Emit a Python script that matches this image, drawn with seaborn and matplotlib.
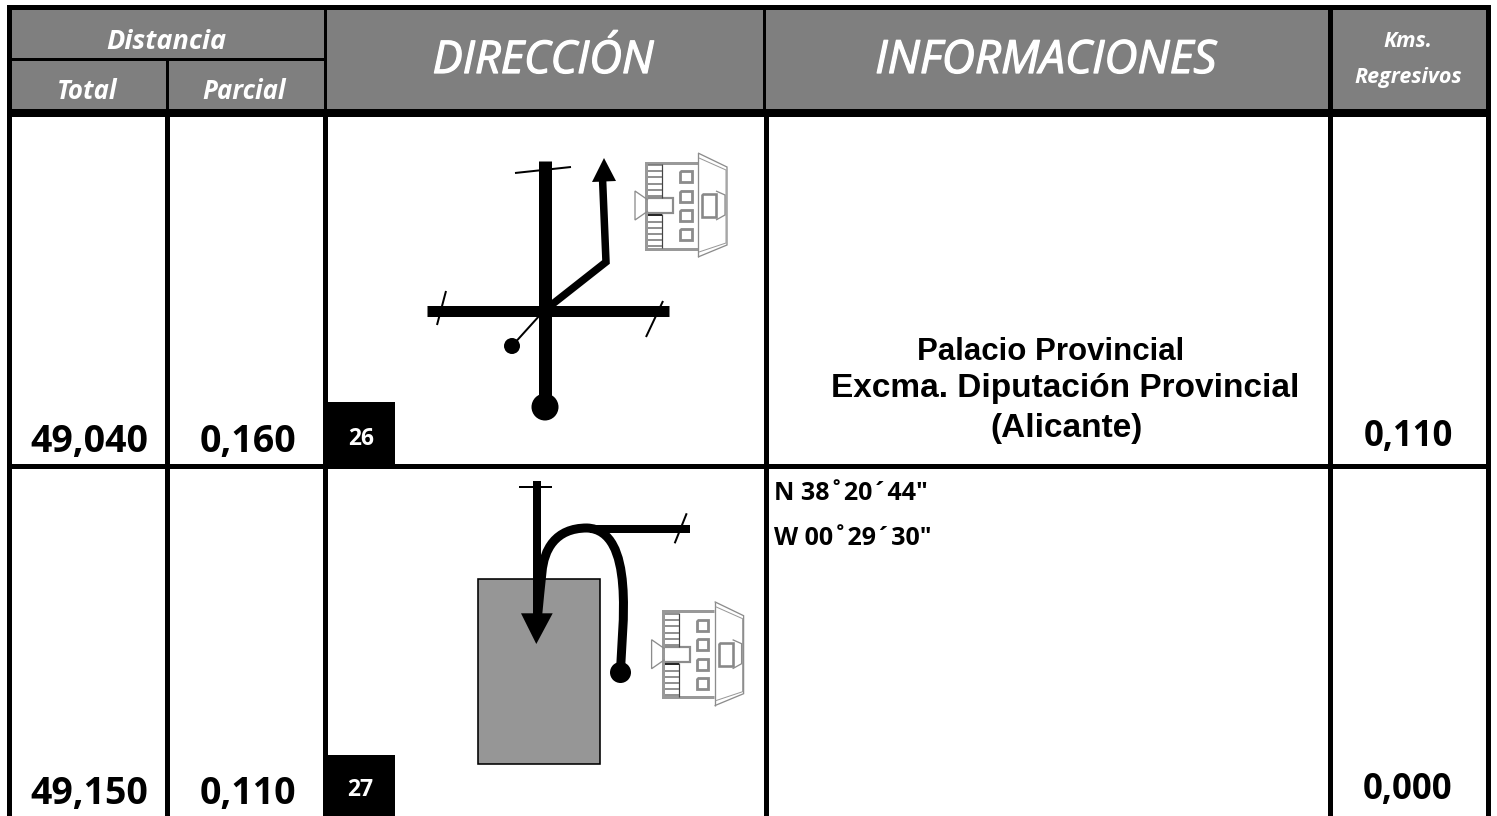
"""Roadbook sheet, two rows: Palacio Provincial (Alicante)."""

import matplotlib
matplotlib.use("Agg")
import matplotlib.pyplot as plt
import matplotlib.patheffects as pe
from matplotlib.patches import Rectangle, Circle, Polygon, PathPatch
from matplotlib.path import Path
import seaborn as sns

# --- table text
header_cols = ["Total", "Parcial"]
total_km = ["49,040", "49,150"]
partial_km = ["0,160", "0,110"]
regressive_km = ["0,110", "0,000"]
step_numbers = ["26", "27"]
place_lines = ["Palacio Provincial", "Excma. Diputación Provincial", "(Alicante)"]
coord_lines = ['N 38˚20´44"', 'W 00˚29´30"']

GREY = "#7f7f7f"
BLOCK = "#969696"
LINE = "#8c8c8c"
CAL = "Open Sans"
ARIAL = "Liberation Sans"


def px(n):
    # pixels to points, figure is at 100 dpi
    return n * 72 / 100


sns.set_theme(style="white")
fig = plt.figure(figsize=(14.97, 8.16), dpi=100)
ax = fig.add_axes([0, 0, 1, 1])


def seg(xs, ys, width, color="black", cap="butt"):
    sns.lineplot(x=xs, y=ys, sort=False, estimator=None, color=color,
                 linewidth=px(width), solid_capstyle=cap,
                 solid_joinstyle="miter", legend=False, ax=ax)


def box(x0, y0, x1, y1, color="black", **kw):
    ax.add_patch(Rectangle((x0, y0), x1 - x0, y1 - y0, facecolor=color,
                           edgecolor="none", **kw))


def building(dx, dy):
    # small palace icon, outline only
    def bl(xs, ys, w=1.3, color=LINE):
        seg([x + dx for x in xs], [y + dy for y in ys], w, color)

    # main body
    bl([697.5, 646, 646, 697.5], [162.5, 162.5, 248.5, 248.5], 3, "#999999")
    # rear wing
    bl([698, 698], [153, 257])
    bl([698, 727, 727, 698], [153, 167, 245, 257])
    bl([699, 726, 726, 699], [158, 170, 243, 252], 1.0, "#999999")
    # door
    bl([702, 716, 716, 702, 702], [194, 194, 217, 217, 194], 2.6, "#888888")
    bl([716, 725, 725, 716], [191, 195, 215, 220])
    # entrance
    bl([648, 635, 635, 648], [200, 191, 220, 211])
    bl([648, 673, 673, 648], [198, 198, 213, 213], 2.2, "#8c8c8c")
    # windows
    for wy in [171, 190.5, 210, 229]:
        bl([680, 691.5, 691.5, 680, 680],
           [wy, wy, wy + 11, wy + 11, wy], 2.8, "#8c8c8c")
    # stairs
    bl([662, 662], [164, 198], 1.2, "#444444")
    bl([662, 662], [214, 248], 1.2, "#444444")
    for ry in [165, 171, 177, 184, 190, 196, 222, 228, 234, 240, 246]:
        bl([648, 662], [ry, ry], 1.6, "#777777")
    bl([648, 662], [215, 215], 1.8, "#111111")


# --- header
box(12, 10, 1486, 109, GREY)
# --- frame
box(7, 5, 1491, 10)
box(7, 5, 12, 816)
box(1486, 5, 1491, 816)
box(12, 109, 1486, 117)
box(12, 464, 1486, 469)
box(324, 10, 327, 109)
box(166, 61, 169, 109)
box(12, 58, 324, 61)
box(763, 10, 766, 109)
box(1328, 10, 1333, 816)
for x0, x1 in [(165, 170), (323, 328), (764, 769)]:
    box(x0, 117, x1, 816)

# --- header text
head = dict(color="white", style="italic", ha="center", va="baseline", family=CAL)
heavier = [pe.withStroke(linewidth=0.9, foreground="white")]
ax.text(166, 49, "Distancia", fontsize=19.5, weight="bold", **head)
ax.text(87, 99, header_cols[0], fontsize=18.5, weight="bold", **head)
ax.text(244, 99, header_cols[1], fontsize=18.5, weight="bold", **head)
ax.text(543, 73, "DIRECCIÓN", fontsize=32.5, path_effects=heavier, **head)
ax.text(1046, 73, "INFORMACIONES", fontsize=33, path_effects=heavier, **head)
ax.text(1408, 47, "Kms.", fontsize=15.5, weight="bold", **head)
ax.text(1408, 83, "Regresivos", fontsize=15.5, weight="bold", **head)

# --- row values
num = dict(color="black", weight="bold", ha="center", va="baseline", family=CAL)
for row, base in enumerate([452, 804]):
    ax.text(89, base, total_km[row], fontsize=27, **num)
    ax.text(248, base, partial_km[row], fontsize=27, **num)
for row, base in enumerate([446, 799]):
    ax.text(1408, base, regressive_km[row], fontsize=25, **num)

box(328, 402, 395, 464)
box(323, 755, 395, 816)
ax.text(361, 445, step_numbers[0], color="white", fontsize=16.5, weight="bold",
        ha="center", va="baseline", family=CAL)
ax.text(360, 796, step_numbers[1], color="white", fontsize=16.5, weight="bold",
        ha="center", va="baseline", family=CAL)

# --- informaciones
for line, base, cx, size in zip(place_lines, [360, 397, 437],
                                [1051, 1065, 1066], [22.5, 24, 24]):
    ax.text(cx, base, line, color="black", fontsize=size, weight="bold",
            ha="center", va="baseline", family=ARIAL)
for line, base in zip(coord_lines, [500, 545]):
    ax.text(774, base, line, color="black", fontsize=18, weight="bold",
            ha="left", va="baseline", family=CAL)

# --- sketch row 26
seg([544.5, 544.5], [161, 400], 13)
seg([515, 571], [173, 167], 2)
seg([427, 669], [310.5, 310.5], 11)
seg([446, 437], [291, 325], 2)
seg([663, 646], [301, 337], 2)
seg([545, 606, 602.5], [310, 262, 178], 7.5)
seg([540, 512], [315, 346], 2)
ax.add_patch(Polygon([(604, 158), (592, 182), (616, 181)], color="black", lw=0))
ax.add_patch(Circle((545, 407), 13.5, color="black", lw=0))
ax.add_patch(Circle((512, 346), 8, color="black", lw=0))
building(0, 0)

# --- sketch row 27
ax.add_patch(Rectangle((477.5, 579), 122, 184.5, facecolor=BLOCK,
                       edgecolor="black", linewidth=px(1.6)))
seg([536.5, 536.5], [481, 620], 8)
seg([519, 552], [486.5, 486.5], 2)
seg([590, 690], [529, 529], 8)
seg([686.7, 674.7], [513.3, 543.3], 2)
curve = Path(
    [(620.5, 670), (622, 630), (636, 530), (587, 528),
     (555, 528), (544, 550), (542, 572), (540, 590), (537, 622)],
    [Path.MOVETO, Path.CURVE4, Path.CURVE4, Path.CURVE4,
     Path.CURVE4, Path.CURVE4, Path.CURVE4, Path.CURVE3, Path.CURVE3])
ax.add_patch(PathPatch(curve, facecolor="none", edgecolor="black", linewidth=px(9)))
ax.add_patch(Polygon([(536.3, 644), (521, 613.3), (552.7, 613.3)], color="black", lw=0))
ax.add_patch(Circle((620.5, 672.5), 10.5, color="black", lw=0))
building(16.6, 448.7)

ax.set_xlim(0, 1497)
ax.set_ylim(816, 0)
ax.set_xlabel("")
ax.set_ylabel("")
ax.axis("off")

fig.savefig("out.png", dpi=100, facecolor="white")
